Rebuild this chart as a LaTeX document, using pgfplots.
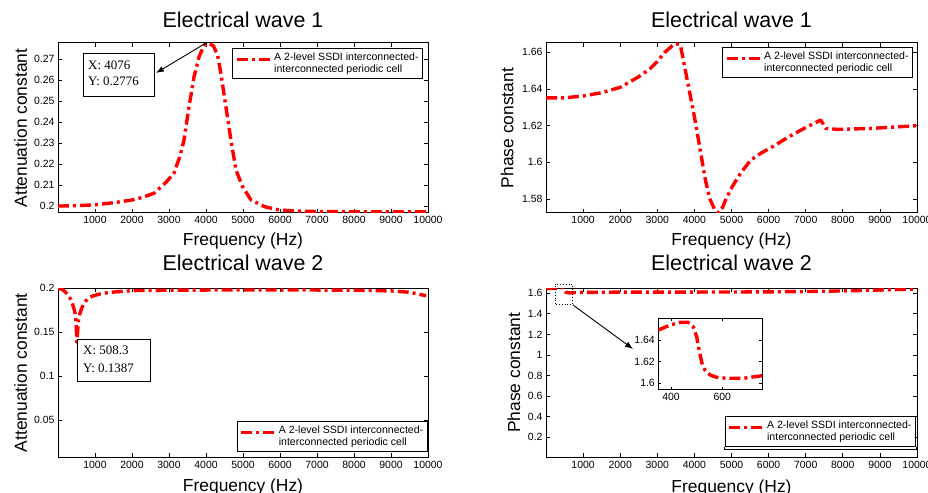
\documentclass[border=0pt]{standalone}
\usepackage{fontspec}
\setmainfont{Liberation Sans}
\newfontfamily\tnr{Liberation Serif}
\usepackage{pgfplots}
\pgfplotsset{compat=1.18}
\usetikzlibrary{arrows.meta}

\pgfplotstableread{
x y
0 0.2000
500 0.2002
1000 0.2006
1500 0.2016
2000 0.2029
2300 0.2042
2600 0.2062
2900 0.2110
3133 0.2156
3300 0.2240
3405 0.2315
3541 0.2474
3677 0.2617
3813 0.2712
3948 0.2768
4076 0.2776
4200 0.2764
4312 0.2720
4402 0.2633
4538 0.2474
4674 0.2315
4810 0.2172
4991 0.2092
5217 0.2029
5580 0.1997
5987 0.1981
6500 0.1976
7000 0.1974
8000 0.1973
9000 0.1973
10000 0.1973
}\attA

\pgfplotstableread{
x y
0 1.6352
500 1.6352
1000 1.6362
1500 1.6380
2000 1.6409
2500 1.6467
2800 1.6510
3000 1.6550
3200 1.6600
3400 1.6635
3500 1.6648
3622 1.6640
3757 1.6500
3892 1.6360
4027 1.6220
4162 1.6060
4300 1.5900
4420 1.5800
4540 1.5745
4650 1.5725
4760 1.5755
4838 1.5794
5018 1.5867
5243 1.5940
5514 1.6012
5784 1.6049
6144 1.6090
6550 1.6140
6955 1.6185
7405 1.6231
7541 1.6185
7856 1.6180
8757 1.6185
10000 1.6200
}\phA

\pgfplotstableread{
x y
0 0.2000
100 0.1990
190 0.1962
280 0.1920
350 0.1870
416 0.1792
462 0.1716
490 0.1600
508.3 0.1387
530 0.1500
552 0.1640
590 0.1710
625 0.1754
680 0.1810
734 0.1850
820 0.1885
915 0.1908
1100 0.1932
1277 0.1946
1500 0.1957
1730 0.1965
2047 0.1974
3000 0.1978
4000 0.1980
5000 0.1981
6000 0.1981
7000 0.1980
8000 0.1978
9000 0.1970
9500 0.1955
9950 0.1915
}\attB

\pgfplotstableread{
x y
0 1.6450
100 1.6470
200 1.6490
300 1.6510
350 1.6491
396 1.6537
435 1.6562
467 1.6562
487 1.6522
500 1.6430
510 1.6300
520 1.6190
532 1.6123
552 1.6077
578 1.6055
617 1.6046
682 1.6046
755 1.6070
1000 1.6090
2000 1.6110
3000 1.6120
4000 1.6120
5000 1.6125
6000 1.6140
7000 1.6170
8000 1.6230
9000 1.6320
10000 1.6420
}\phB

\pgfplotstableread{
x y
350 1.6491
396 1.6537
435 1.6562
467 1.6562
487 1.6522
500 1.6430
510 1.6300
520 1.6190
532 1.6123
552 1.6077
578 1.6055
617 1.6046
682 1.6046
755 1.6070
}\phBzoom

\pgfplotsset{
  base/.style={
    scale only axis, anchor=south west,
    axis line style={line width=1bp, black},
    every tick/.style={black, line width=0.8bp},
    major tick length=4bp, tick align=inside,
    xtick pos=both, ytick pos=both,
    xticklabel pos=bottom, yticklabel pos=left,
    scaled ticks=false,
    xmin=0, xmax=10000,
    xtick={1000,2000,3000,4000,5000,6000,7000,8000,9000,10000},
    xticklabels={1000,2000,3000,4000,5000,6000,7000,8000,9000,10000},
    ticklabel style={font=\fontsize{10.5}{12}\selectfont},
    label style={font=\fontsize{17.5}{20}\selectfont},
    title style={font=\fontsize{21.5}{24}\selectfont, anchor=base},
    xlabel={Frequency (Hz)},
    legend style={draw=black, line width=0.8bp, fill=white,
      font=\fontsize{10.6}{12}\selectfont, inner xsep=2bp, inner ysep=2.5bp,
      nodes={inner sep=2bp},
      cells={align=left, anchor=west}},
    legend image code/.code={\draw[#1] (0bp,4bp) -- (34bp,4bp);},
  },
  curve/.style={red, line width=3.4bp, dash pattern=on 11bp off 4bp on 3bp off 4bp, line cap=butt, line join=round},
}

\begin{document}
\begin{tikzpicture}[x=1bp,y=1bp]
\path[use as bounding box] (0,0) rectangle (928,493);

% Top-left
\begin{axis}[base, at={(58bp,280bp)}, width=370bp, height=170bp,
  ymin=0.1967, ymax=0.2778,
  ytick={0.2,0.21,0.22,0.23,0.24,0.25,0.26,0.27},
  yticklabels={0.2,0.21,0.22,0.23,0.24,0.25,0.26,0.27},
  title={Electrical wave 1}, title style={at={(0.5,1.057)}},
  ylabel={Attenuation constant},
  ylabel style={at={(axis description cs:-0.0838,0.5)}, anchor=base},
  xlabel style={at={(axis description cs:0.5,-0.194)}, anchor=base},
  legend style={at={(0.9865,0.9706)}, anchor=north east}]
\addplot[curve] table[x=x,y=y] {\attA};
\addlegendentry{A 2-level SSDI interconnected-\\interconnected periodic cell}
\end{axis}

% Top-right
\begin{axis}[base, at={(546bp,280bp)}, width=371bp, height=170bp,
  ymin=1.5724, ymax=1.6651,
  ytick={1.58,1.6,1.62,1.64,1.66},
  yticklabels={1.58,1.6,1.62,1.64,1.66},
  title={Electrical wave 1}, title style={at={(0.5,1.057)}},
  ylabel={Phase constant},
  ylabel style={at={(axis description cs:-0.0881,0.5)}, anchor=base},
  xlabel style={at={(axis description cs:0.5,-0.194)}, anchor=base},
  legend style={at={(0.9892,0.9765)}, anchor=north east}]
\addplot[curve] table[x=x,y=y] {\phA};
\addlegendentry{A 2-level SSDI interconnected-\\interconnected periodic cell}
\end{axis}

% Bottom-left
\begin{axis}[base, at={(58bp,35.7bp)}, width=370bp, height=169bp,
  ymin=0.0075, ymax=0.2,
  ytick={0.05,0.1,0.15,0.2},
  yticklabels={0.05,0.1,0.15,0.2},
  title={Electrical wave 2}, title style={at={(0.5,1.069)}},
  ylabel={Attenuation constant},
  ylabel style={at={(axis description cs:-0.0838,0.5)}, anchor=base},
  xlabel style={at={(axis description cs:0.5,-0.2)}, anchor=base},
  legend style={at={(0.999,0.033)}, anchor=south east}]
\addplot[curve] table[x=x,y=y] {\attB};
\addlegendentry{A 2-level SSDI interconnected-\\interconnected periodic cell}
\end{axis}

% Bottom-right
\begin{axis}[base, at={(546bp,35.7bp)}, width=371bp, height=169bp,
  ymin=0.006, ymax=1.6486,
  ytick={0.2,0.4,0.6,0.8,1,1.2,1.4,1.6},
  yticklabels={0.2,0.4,0.6,0.8,1,1.2,1.4,1.6},
  title={Electrical wave 2}, title style={at={(0.5,1.069)}},
  ylabel={Phase constant},
  ylabel style={at={(axis description cs:-0.0701,0.5)}, anchor=base},
  xlabel style={at={(axis description cs:0.5,-0.207)}, anchor=base},
  legend style={at={(0.997,0.061)}, anchor=south east}]
\addplot[curve] table[x=x,y=y] {\phB};
\addlegendentry{A 2-level SSDI interconnected-\\interconnected periodic cell}
\end{axis}

% Inset
\begin{axis}[base, at={(658.3bp,103bp)}, width=103.7bp, height=71.7bp,
  axis background/.style={fill=white},
  xmin=350.5, xmax=754.6, ymin=1.5938, ymax=1.66,
  xtick={400,600}, xticklabels={400,600},
  ytick={1.6,1.62,1.64}, yticklabels={1.6,1.62,1.64},
  xlabel={}, major tick length=3bp]
\addplot[curve] table[x=x,y=y] {\phBzoom};
\end{axis}

% Annotations
\draw[black, line width=0.8bp, fill=white] (83,397) rectangle (154,440);
\node[anchor=base west, inner sep=0, font=\tnr\fontsize{13}{15}\selectfont] at (88,423) {X: 4076};
\node[anchor=base west, inner sep=0, font=\tnr\fontsize{13}{15}\selectfont] at (88,407) {Y: 0.2776};
\draw[black, line width=0.9bp, -{Latex[length=8bp,width=6bp]}] (206,450) -- (156,420);

\draw[black, line width=0.8bp, fill=white] (77.3,112) rectangle (150,153.7);
\node[anchor=base west, inner sep=0, font=\tnr\fontsize{13}{15}\selectfont] at (83,138) {X: 508.3};
\node[anchor=base west, inner sep=0, font=\tnr\fontsize{13}{15}\selectfont] at (83,120) {Y: 0.1387};

\draw[black, line width=0.8bp, dotted] (555,189) rectangle (572.3,209);
\draw[black, line width=0.9bp, -{Latex[length=8bp,width=6bp]}] (573,188) -- (633,144);
\draw[black, line width=0.8bp] (724,46) -- (724,43.5) -- (916,43.5) -- (916,46);
\end{tikzpicture}
\end{document}
